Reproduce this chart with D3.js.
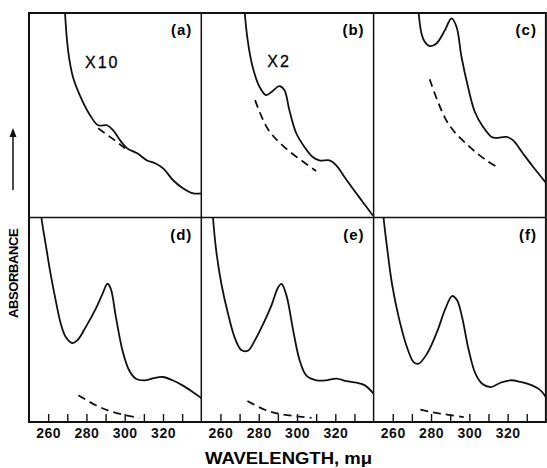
<!DOCTYPE html>
<html><head><meta charset="utf-8">
<script src="https://cdn.jsdelivr.net/npm/d3@7"></script>
<style>body{margin:0;background:#fff}svg{display:block}</style>
</head><body>
<svg id="c" width="547" height="468"></svg>
<script>
// Panel labels and annotations
const panelLabels = ["(a)", "(b)", "(c)", "(d)", "(e)", "(f)"];
const scaleNotes = ["X10", "X2", "", "", "", ""];
const tickValues = [260, 270, 280, 290, 300, 310, 320, 330];
const tickLabels = ["260", "", "280", "", "300", "", "320", ""];

// Solid spectra: [wavelength (mμ), relative absorbance]
const solidA = [[268.5,105],[270.4,81.9],[273.0,68.6],[277.7,57.4],[281.9,50.0],[286.1,45.1],[290.8,45.1],[294.0,42.6],[297.6,37.7],[301.3,33.8],[306.5,31.4],[311.7,27.9],[315.9,26.5],[320.1,24.0],[325.4,18.1],[330.6,14.2],[335.8,11.8],[340,11.8]];
const solidB = [[271.8,110],[274.2,86.8],[276.8,73.7],[280.4,63.9],[283.9,59.8],[287.3,61.9],[290.8,64.2],[293.4,62.3],[296.0,52.5],[299.6,41.2],[303.9,34.5],[308.2,29.6],[311.7,27.9],[317.0,27.9],[320.5,25.5],[324.8,19.8],[329.2,14.1],[334.4,7.5],[339.6,1.0]];
const solidC = [[272.6,110],[275.0,90.0],[276.7,85.9],[279.3,83.8],[282.8,85.1],[287.2,91.5],[290.7,97.4],[293.3,93.3],[295.9,78.6],[299.3,63.9],[302.9,51.6],[307.2,44.3],[311.6,39.4],[314.2,38.9],[319.4,39.4],[322.9,37.7],[328.1,31.2],[333.4,24.7],[340.4,16.5]];
const solidD = [[255.8,110],[256.5,100],[258.7,87.0],[261.3,72.3],[264.0,59.2],[266.6,48.1],[269.2,41.6],[272.7,38.6],[275.3,40.0],[279.7,46.5],[284.9,55.4],[288.4,62.7],[291.0,67.6],[292.7,65.2],[295.4,51.3],[298.8,35.1],[302.3,25.3],[305.8,21.2],[310.2,20.4],[315.4,21.5],[319.8,22.0],[325.0,20.4],[330.2,17.9],[335.5,14.7],[340.5,11.4]];
const solidE = [[255.4,110],[256.1,100],[257.8,83.7],[260.5,67.5],[264.0,52.8],[267.4,41.4],[270.9,35.2],[274.4,34.9],[277.9,39.8],[282.3,47.9],[286.6,56.9],[290.1,65.8],[291.9,67.5],[294.5,61.8],[298.0,44.7],[301.4,30.1],[304.9,22.7],[310.2,20.4],[315.4,20.4],[320.6,21.2],[325.9,20.0],[331.1,19.2],[335.5,17.9],[340.0,13.8]];
const solidF = [[254.5,110],[255.2,100],[257.0,85.6],[259.6,67.6],[263.1,51.3],[267.4,36.7],[270.9,29.3],[273.5,28.5],[277.9,33.4],[283.1,44.0],[287.5,55.4],[291.0,61.6],[293.6,59.5],[296.2,51.3],[299.7,35.1],[303.2,23.6],[306.7,18.7],[311.1,17.1],[316.3,19.2],[321.5,20.4],[326.8,19.6],[332.8,17.9],[337.2,15.5],[340.5,11.4]];

// Dashed reference spectra
const dashA = [[286.1,43.6],[293.4,38.7],[300.2,33.8]];
const dashB = [[278.1,57.4],[284.6,43.5],[293.3,34.5],[310.0,22.7]];
const dashC = [[279.3,67.6],[288.9,46.0],[300.2,34.5],[309.0,27.9],[315.9,23.9]];
const dashD = [[275.8,13.1],[284.9,8.2],[293.6,4.9],[307.6,2.0]];
const dashE = [[274.1,10.3],[283.1,6.0],[291.9,3.8],[307.6,2.0]];
const dashF = [[274.4,6.0],[284.9,4.1],[297.1,2.4]];

const solids = [solidA, solidB, solidC, solidD, solidE, solidF];
const dashes = [dashA, dashB, dashC, dashD, dashE, dashF];

const svg = d3.select("#c");
const mLeft = 29, mTop = 13, pw = 172.3, ph = 204.5;
const font = "'Liberation Sans', Arial, sans-serif";

const x = d3.scaleLinear().domain([250, 340]).range([0, pw]);
const y = d3.scaleLinear().domain([0, 100]).range([ph, 0]);
const line = d3.line().x(d => x(d[0])).y(d => y(d[1])).curve(d3.curveCatmullRom.alpha(0.5));

svg.append("defs").append("clipPath").attr("id", "clip")
  .append("rect").attr("x", 0).attr("y", 0).attr("width", pw).attr("height", ph);

panelLabels.forEach((lab, i) => {
  const col = i % 3, row = Math.floor(i / 3);
  const g = svg.append("g").attr("transform", `translate(${mLeft + col * pw},${mTop + row * ph})`);
  const cg = g.append("g").attr("clip-path", "url(#clip)");
  cg.append("path").attr("d", line(solids[i])).attr("fill", "none")
    .attr("stroke", "#111").attr("stroke-width", 1.8);
  cg.append("path").attr("d", line(dashes[i])).attr("fill", "none")
    .attr("stroke", "#111").attr("stroke-width", 1.8).attr("stroke-dasharray", "8,5");
  g.append("text").attr("x", pw - 9).attr("y", 22).attr("text-anchor", "end")
    .attr("font-family", font).attr("font-weight", "bold").attr("font-size", 15)
    .attr("letter-spacing", 1).text(lab);
  if (scaleNotes[i]) {
    g.append("text").attr("x", i === 0 ? 56 : 66).attr("y", i === 0 ? 55 : 54)
      .attr("font-family", font).attr("font-size", 16).attr("letter-spacing", 2)
      .attr("stroke", "#111").attr("stroke-width", 0.3)
      .text(scaleNotes[i]);
  }
  if (row === 1) {
    const ax = g.append("g").attr("transform", `translate(0,${ph})`)
      .call(d3.axisBottom(x).tickValues(tickValues).tickSizeInner(-8).tickSizeOuter(0)
        .tickPadding(6).tickFormat((d, k) => tickLabels[k]));
    ax.select(".domain").remove();
    ax.selectAll("line").attr("stroke", "#111").attr("stroke-width", 1.4);
    ax.selectAll("text").attr("font-family", font).attr("font-weight", "bold")
      .attr("font-size", 14).attr("letter-spacing", 0.5).attr("fill", "#111");
  }
});

// Frame and dividers
const fr = svg.append("g").attr("fill", "none").attr("stroke", "#111");
fr.append("rect").attr("x", mLeft).attr("y", mTop).attr("width", 3 * pw).attr("height", 2 * ph)
  .attr("stroke-width", 2);
for (let k = 1; k < 3; k++) {
  fr.append("line").attr("x1", mLeft + k * pw).attr("x2", mLeft + k * pw)
    .attr("y1", mTop).attr("y2", mTop + 2 * ph).attr("stroke-width", 1.5);
}
fr.append("line").attr("x1", mLeft).attr("x2", mLeft + 3 * pw)
  .attr("y1", mTop + ph).attr("y2", mTop + ph).attr("stroke-width", 1.5);

// Axis titles
svg.append("text").attr("x", 205).attr("y", 464)
  .attr("font-family", font).attr("font-weight", "bold").attr("font-size", 16)
  .attr("textLength", 167).attr("lengthAdjust", "spacingAndGlyphs").text("WAVELENGTH, mμ");
const yl = svg.append("g").attr("transform", "translate(18,318) rotate(-90)");
yl.append("text").attr("x", 0).attr("y", 0).attr("font-family", font)
  .attr("font-weight", "bold").attr("font-size", 13).attr("letter-spacing", -0.4)
  .text("ABSORBANCE");
yl.append("line").attr("x1", 128).attr("x2", 188).attr("y1", -5).attr("y2", -5)
  .attr("stroke", "#111").attr("stroke-width", 1.5);
yl.append("path").attr("d", "M190,-5 L181,-8.5 L181,-1.5 Z").attr("fill", "#111");
</script>
</body></html>
